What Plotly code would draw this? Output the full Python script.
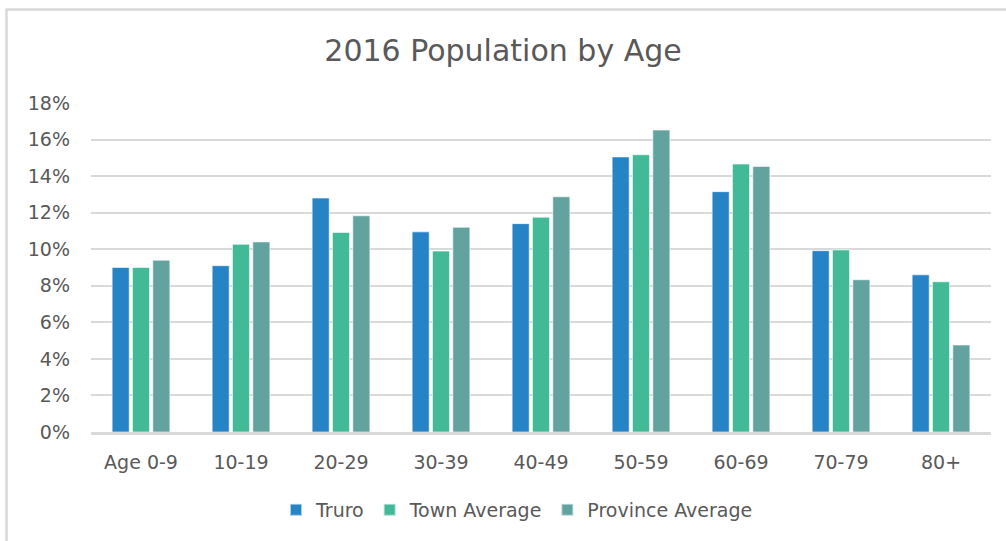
import plotly.graph_objects as go

categories = ["Age 0-9", "10-19", "20-29", "30-39", "40-49", "50-59", "60-69", "70-79", "80+"]
truro = [9.0, 9.1, 12.8, 10.95, 11.4, 15.05, 13.15, 9.92, 8.6]
town_avg = [9.0, 10.27, 10.92, 9.9, 11.75, 15.17, 14.66, 9.96, 8.22]
province_avg = [9.4, 10.4, 11.83, 11.2, 12.87, 16.52, 14.53, 8.33, 4.76]
y_ticks = [0, 2, 4, 6, 8, 10, 12, 14, 16, 18]
y_labels = [f"{v}%" for v in y_ticks]

series = [
    ("Truro", truro, "#2683C6"),
    ("Town Average", town_avg, "#42BA97"),
    ("Province Average", province_avg, "#62A39F"),
]

fig = go.Figure()
for name, vals, col in series:
    fig.add_trace(go.Bar(
        name=name, x=categories, y=vals,
        marker=dict(color=col, line=dict(color="rgba(255,255,255,0.6)", width=1)),
    ))

font_family = "'DejaVu Sans', sans-serif"
W, H = 1006, 541
ml, mr, mt, mb = 91, 15, 103, 109
pw, ph = W - ml - mr, H - mt - mb

def px_x(p):
    return (p - ml) / pw

def px_y(p):
    return (H - mb - p) / ph

fig.update_layout(
    width=W, height=H,
    margin=dict(l=ml, r=mr, t=mt, b=mb, pad=0),
    paper_bgcolor="white", plot_bgcolor="white",
    barmode="group", bargap=0.39, bargroupgap=0.16,
    font=dict(family=font_family, color="#595959", size=19),
    title=dict(text="2016 Population by Age", x=0.5, xanchor="center",
               y=1 - 50 / H, yanchor="middle",
               font=dict(size=30, color="#595959", family=font_family)),
    legend=dict(orientation="h", x=px_x(517), xanchor="center", y=px_y(510), yanchor="middle",
                font=dict(size=19, color="#595959"), itemsizing="constant",
                traceorder="normal", itemwidth=30),
    showlegend=True,
    xaxis=dict(showgrid=False, showline=True, linecolor="#d9d9d9", linewidth=3,
               ticks="", ticklabelstandoff=11, tickfont=dict(size=19, color="#595959")),
    yaxis=dict(range=[0, 18], tickvals=y_ticks, ticktext=y_labels,
               showgrid=True, gridcolor="#d9d9d9", gridwidth=1.5, zeroline=False,
               showline=False, ticks="", ticklabelstandoff=20,
               tickfont=dict(size=19, color="#595959")),
    shapes=[
        dict(type="line", xref="paper", yref="paper",
             x0=px_x(6.5), x1=px_x(6.5), y0=px_y(545), y1=px_y(9.5),
             line=dict(color="#d9d9d9", width=2.5)),
        dict(type="line", xref="paper", yref="paper",
             x0=px_x(5.5), x1=px_x(1010), y0=px_y(9.5), y1=px_y(9.5),
             line=dict(color="#d9d9d9", width=2.5)),
    ],
)

fig.write_html("out.html", config={"displayModeBar": False})

# remove the default page margin so the figure sits at the window origin
with open("out.html", "r", encoding="utf-8") as f:
    html = f.read()
html = html.replace("<head>", "<head><style>html,body{margin:0;padding:0;overflow:hidden;}</style>", 1)
with open("out.html", "w", encoding="utf-8") as f:
    f.write(html)
